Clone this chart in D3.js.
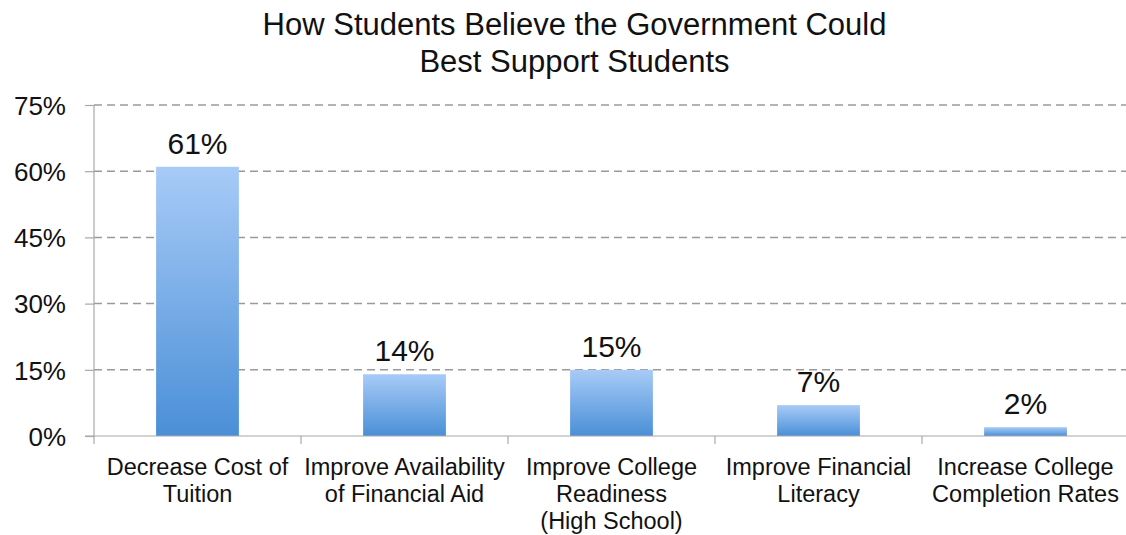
<!DOCTYPE html>
<html>
<head>
<meta charset="utf-8">
<script src="https://d3js.org/d3.v7.min.js"></script>
<style>
  html, body { margin: 0; padding: 0; background: #fff; }
  svg { display: block; font-family: "Liberation Sans", Arial, Helvetica, sans-serif; }
</style>
</head>
<body>
<svg id="chart" width="1126" height="535"></svg>
<script>
// Survey answers: share of students choosing each option
const categories = [
  "Decrease Cost of\nTuition",
  "Improve Availability\nof Financial Aid",
  "Improve College\nReadiness\n(High School)",
  "Improve Financial\nLiteracy",
  "Increase College\nCompletion Rates"
];
const values = [61, 14, 15, 7, 2];
const yTicks = [0, 15, 30, 45, 60, 75];
const titleLines = ["How Students Believe the Government Could", "Best Support Students"];

(function () {
  const svg = d3.select("#chart");
  const W = 1126;
  const plotL = 94, plotR = 1129, plotT = 105, plotB = 436;

  const x = d3.scaleBand().domain(categories).range([plotL, plotR]).padding(0);
  const y = d3.scaleLinear().domain([0, 75]).range([plotB, plotT]);
  const barW = x.bandwidth() * 0.4;

  // Vertical gradient used by every bar
  const defs = svg.append("defs");
  const grad = defs.append("linearGradient")
    .attr("id", "barGrad").attr("x1", 0).attr("y1", 0).attr("x2", 0).attr("y2", 1);
  grad.append("stop").attr("offset", "0%").attr("stop-color", "#a8cbf7");
  grad.append("stop").attr("offset", "100%").attr("stop-color", "#4a8fd7");

  // Title
  svg.append("g").selectAll("text").data(titleLines).join("text")
    .attr("x", 574.5).attr("y", (d, i) => 35 + i * 37)
    .attr("text-anchor", "middle")
    .attr("font-size", 31).attr("fill", "#111")
    .text(d => d);

  // Dashed horizontal gridlines
  svg.append("g").selectAll("line").data(yTicks.filter(t => t > 0)).join("line")
    .attr("x1", plotL).attr("x2", W)
    .attr("y1", d => y(d)).attr("y2", d => y(d))
    .attr("stroke", "#9a9a9a").attr("stroke-width", 1.5)
    .attr("stroke-dasharray", "8,5");

  // Y axis
  const yAxis = d3.axisLeft(y).tickValues(yTicks).tickFormat(d => d + "%").tickSize(9).tickPadding(19);
  const gy = svg.append("g").attr("transform", `translate(${plotL},0)`).call(yAxis);
  gy.select(".domain").attr("stroke", "#a8a8a8").attr("stroke-width", 1.2).attr("d", `M0,${plotT}V${plotB}`);
  gy.selectAll(".tick line").attr("stroke", "#a8a8a8").attr("stroke-width", 1.2);
  gy.selectAll(".tick text").attr("font-size", 26).attr("fill", "#111")
    .attr("font-family", "Liberation Sans, Arial, sans-serif").attr("dy", "0.36em");

  // Bars
  svg.append("g").selectAll("rect").data(values).join("rect")
    .attr("x", (d, i) => x(categories[i]) + (x.bandwidth() - barW) / 2)
    .attr("y", d => y(d))
    .attr("width", barW)
    .attr("height", d => plotB - y(d))
    .attr("fill", "url(#barGrad)");

  // X axis baseline and category separators
  const xTicks = categories.map(c => x(c));
  const gx = svg.append("g");
  gx.append("line").attr("x1", plotL - 9).attr("x2", W).attr("y1", plotB).attr("y2", plotB)
    .attr("stroke", "#a8a8a8").attr("stroke-width", 1.2);
  gx.selectAll("line.sep").data(xTicks).join("line").attr("class", "sep")
    .attr("x1", d => d).attr("x2", d => d).attr("y1", plotB).attr("y2", plotB + 8)
    .attr("stroke", "#a8a8a8").attr("stroke-width", 1.2);

  // Category labels (multi-line)
  const cat = gx.selectAll("text.cat").data(categories).join("text").attr("class", "cat")
    .attr("text-anchor", "middle").attr("font-size", 23.5).attr("fill", "#111");
  cat.each(function (d) {
    const t = d3.select(this);
    d.split("\n").forEach((line, j) => {
      t.append("tspan").attr("x", x(d) + x.bandwidth() / 2).attr("y", 475 + j * 27).text(line);
    });
  });

  // Value labels above bars
  svg.append("g").selectAll("text").data(values).join("text")
    .attr("x", (d, i) => x(categories[i]) + x.bandwidth() / 2)
    .attr("y", d => y(d) - 13)
    .attr("text-anchor", "middle").attr("font-size", 30).attr("fill", "#111")
    .text(d => d + "%");
})();
</script>
</body>
</html>
